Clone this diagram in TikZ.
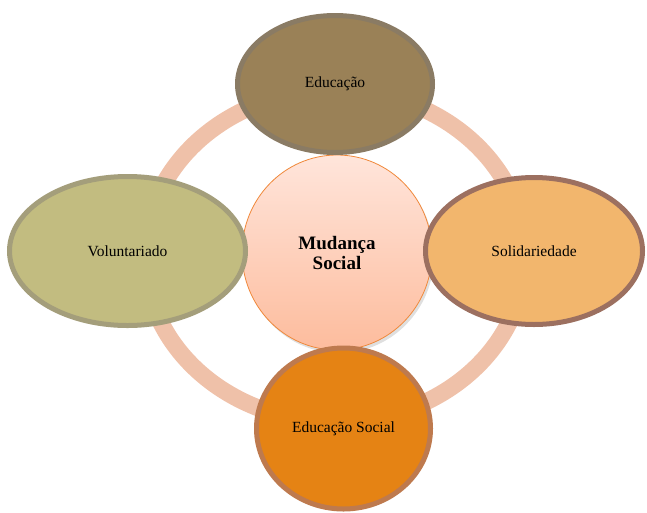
\documentclass[tikz,border=0pt]{standalone}
\usepackage{fontspec}
\setmainfont{Liberation Serif}
\usetikzlibrary{shapes.geometric,shadows}
\definecolor{ringc}{HTML}{EFC1A9}
\definecolor{edfill}{HTML}{9A8157}
\definecolor{eddraw}{HTML}{8A7B64}
\definecolor{sofill}{HTML}{F2B66D}
\definecolor{sodraw}{HTML}{9C7060}
\definecolor{vofill}{HTML}{C2BC80}
\definecolor{vodraw}{HTML}{A49E7B}
\definecolor{esfill}{HTML}{E58314}
\definecolor{esdraw}{HTML}{BE7A4E}
\definecolor{ctop}{HTML}{FFE5DB}
\definecolor{cbot}{HTML}{FDBC9D}
\definecolor{cdraw}{HTML}{F0883A}
\tikzset{
  outer/.style={ellipse, inner sep=0pt, line width=5pt, font=\fontsize{15.5}{17}\selectfont, text=black, align=center},
}
\begin{document}
\begin{tikzpicture}[x=1pt,y=-1pt]
\useasboundingbox (0,0) rectangle (647,512);
\node[ellipse, draw=ringc, line width=17pt, minimum width=380pt, minimum height=332pt, inner sep=0pt] (ring) at (335,256) {};
\node[ellipse, draw=cdraw, line width=0.8pt, top color=ctop, bottom color=cbot, minimum width=190pt, minimum height=195pt, inner sep=0pt,
  drop shadow={shadow xshift=2pt, shadow yshift=-3pt, opacity=0.25, fill=gray}, font=\fontsize{19}{20}\selectfont\bfseries, align=center] (center) at (337,252.5) {Mudança\\Social};
\node[outer, draw=eddraw, fill=edfill, minimum width=195pt, minimum height=137pt] (edu) at (335,84) {Educação};
\node[outer, draw=sodraw, fill=sofill, minimum width=217pt, minimum height=147pt] (sol) at (534,251) {Solidariedade};
\node[outer, draw=vodraw, fill=vofill, minimum width=236pt, minimum height=149pt] (vol) at (127.5,251) {Voluntariado};
\node[outer, draw=esdraw, fill=esfill, minimum width=174pt, minimum height=161pt] (edsoc) at (343.5,428.5) {Educação Social};
\end{tikzpicture}
\end{document}
